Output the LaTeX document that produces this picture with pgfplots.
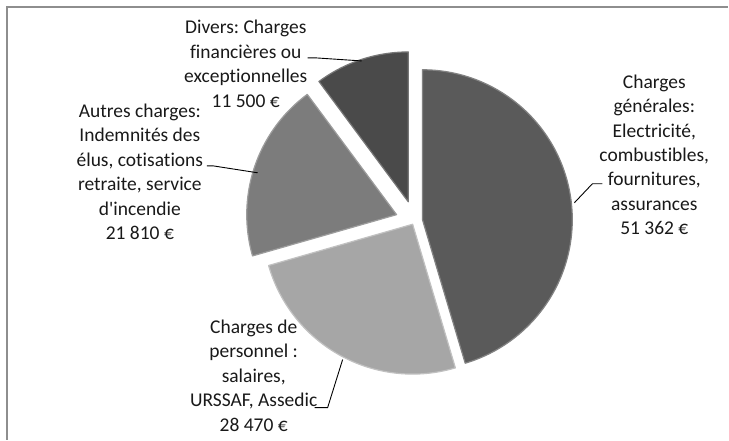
\documentclass[border=0pt]{standalone}
\usepackage{pgfplots}
\pgfplotsset{compat=1.18}
\usepackage{pgfplotstable}
\usepackage{fontspec}
\setmainfont{Carlito}[Ligatures={NoCommon}]
\frenchspacing

\definecolor{cA}{HTML}{5A5A5A}
\definecolor{cB}{HTML}{A6A6A6}
\definecolor{cC}{HTML}{7C7C7C}
\definecolor{cD}{HTML}{4A4A4A}
\definecolor{frame}{HTML}{8E8E8E}

% value in euros, explosion in px
\pgfplotstableread{
value explode
51362 8
28470 4
21810 19
11500 20
}\piedata

\pgfplotstablegetelem{0}{value}\of\piedata\edef\vA{\pgfplotsretval}
\pgfplotstablegetelem{1}{value}\of\piedata\edef\vB{\pgfplotsretval}
\pgfplotstablegetelem{2}{value}\of\piedata\edef\vC{\pgfplotsretval}
\pgfplotstablegetelem{3}{value}\of\piedata\edef\vD{\pgfplotsretval}
\pgfplotstablegetelem{0}{explode}\of\piedata\edef\dA{\pgfplotsretval}
\pgfplotstablegetelem{1}{explode}\of\piedata\edef\dB{\pgfplotsretval}
\pgfplotstablegetelem{2}{explode}\of\piedata\edef\dC{\pgfplotsretval}
\pgfplotstablegetelem{3}{explode}\of\piedata\edef\dD{\pgfplotsretval}

\def\cx{415}\def\cy{219}\def\rr{150}
\edef\tot{\fpeval{\vA+\vB+\vC+\vD}}
\edef\sA{90}
\edef\eA{\fpeval{round(\sA-360*\vA/\tot,4)}}
\edef\eB{\fpeval{round(\eA-360*\vB/\tot,4)}}
\edef\eC{\fpeval{round(\eB-360*\vC/\tot,4)}}
\edef\eD{\fpeval{round(\eC-360*\vD/\tot,4)}}
\edef\axA{\fpeval{round(\cx+\dA*cosd((\sA+\eA)/2),3)}}
\edef\ayA{\fpeval{round(\cy+\dA*sind((\sA+\eA)/2),3)}}
\edef\axB{\fpeval{round(\cx+\dB*cosd((\eA+\eB)/2),3)}}
\edef\ayB{\fpeval{round(\cy+\dB*sind((\eA+\eB)/2),3)}}
\edef\axC{\fpeval{round(\cx+\dC*cosd((\eB+\eC)/2),3)}}
\edef\ayC{\fpeval{round(\cy+\dC*sind((\eB+\eC)/2),3)}}
\edef\axD{\fpeval{round(\cx+\dD*cosd((\eC+\eD)/2),3)}}
\edef\ayD{\fpeval{round(\cy+\dD*sind((\eC+\eD)/2),3)}}

\tikzset{lbl/.style={font=\fontsize{19.5}{24.5}\selectfont\frenchspacing, text=black!90, align=center, inner sep=0pt}}

\begin{document}
\begin{tikzpicture}
\begin{axis}[
  x=1pt, y=1pt,
  xmin=0, xmax=729, ymin=0, ymax=440,
  scale only axis, hide axis, clip=false,
]
\path (axis cs:0,0) rectangle (axis cs:729,440);
% frame (top and left edges visible)
\draw[frame, line width=1.6pt] (axis cs:7,0) -- (axis cs:7,433) -- (axis cs:729,433);

% slices
\addplot[fill=cA, draw=cA!75!white, line width=1.2pt, line join=round, domain=\eA:\sA, samples=120]
  ({\axA+\rr*cos(x)},{\ayA+\rr*sin(x)}) -- (axis cs:\axA,\ayA) -- cycle;
\addplot[fill=cB, draw=cB!70!white, line width=1.2pt, line join=round, domain=\eB:\eA, samples=80]
  ({\axB+\rr*cos(x)},{\ayB+\rr*sin(x)}) -- (axis cs:\axB,\ayB) -- cycle;
\addplot[fill=cC, draw=cC!75!white, line width=1.2pt, line join=round, domain=\eC:\eB, samples=70]
  ({\axC+\rr*cos(x)},{\ayC+\rr*sin(x)}) -- (axis cs:\axC,\ayC) -- cycle;
\addplot[fill=cD, draw=cD!75!white, line width=1.2pt, line join=round, domain=\eD:\eC, samples=40]
  ({\axD+\rr*cos(x)},{\ayD+\rr*sin(x)}) -- (axis cs:\axD,\ayD) -- cycle;

% leader lines
\draw[black, line width=0.9pt] (axis cs:308,382) -- (axis cs:317,382) -- (axis cs:362,379);
\draw[black, line width=0.9pt] (axis cs:207,274) -- (axis cs:213,274) -- (axis cs:258,267);
\draw[black, line width=0.9pt] (axis cs:603,256) -- (axis cs:593,256) -- (axis cs:575,237);
\draw[black, line width=0.9pt] (axis cs:315,32) -- (axis cs:328,32) -- (axis cs:343,80);

% labels
\node[lbl] at (axis cs:246,376) {Divers: Charges\\financières ou\\exceptionnelles\\11 500 €};
\node[lbl] at (axis cs:140,268) {Autres charges:\\Indemnités des\\élus, cotisations\\retraite, service\\d\textquotesingle incendie\\21 810 €};
\node[lbl] at (axis cs:655,285) {Charges\\générales:\\Electricité,\\combustibles,\\fournitures,\\assurances\\51 362 €};
\node[lbl] at (axis cs:254,64) {Charges de\\personnel :\\salaires,\\URSSAF, Assedic\\28 470 €};
\end{axis}
\end{tikzpicture}
\end{document}
